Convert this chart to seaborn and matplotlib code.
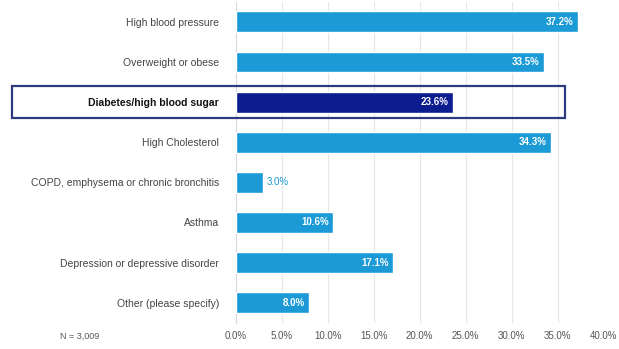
import seaborn as sns
import matplotlib.pyplot as plt
import matplotlib.transforms as mtransforms
from matplotlib.patches import Rectangle
import pandas as pd

conditions = ["High blood pressure", "Overweight or obese", "Diabetes/high blood sugar",
              "High Cholesterol", "COPD, emphysema or chronic bronchitis", "Asthma",
              "Depression or depressive disorder", "Other (please specify)"]
percents = [37.2, 33.5, 23.6, 34.3, 3.0, 10.6, 17.1, 8.0]
highlight = "Diabetes/high blood sugar"
xticks = [0, 5, 10, 15, 20, 25, 30, 35, 40]
note = "N = 3,009"

blue = "#1b9ad6"
navy = "#0b1d8f"

df = pd.DataFrame({"condition": conditions, "pct": percents})
df["grp"] = ["hi" if c == highlight else "lo" for c in conditions]

sns.set_style("white")
plt.rcParams["font.family"] = ["Liberation Sans", "DejaVu Sans"]

fig, ax = plt.subplots(figsize=(6.19, 3.49), dpi=100)
fig.subplots_adjust(left=0.381, right=0.975, top=0.995, bottom=0.075)

sns.barplot(data=df, x="pct", y="condition", hue="grp", orient="h",
            palette={"hi": navy, "lo": blue}, width=0.52, dodge=False,
            saturation=1, legend=False, ax=ax, zorder=3)

ax.set_xlim(0, 40)
ax.set_ylim(len(conditions) - 0.5, -0.5)
ax.set_xticks(xticks)
ax.set_xticklabels([f"{t:.1f}%" for t in xticks], fontsize=7, color="#555555")
ax.grid(axis="x", color="#e6e6e6", linewidth=0.8, zorder=0)
ax.set_xlabel("")
ax.set_ylabel("")
ax.tick_params(axis="y", length=0, pad=12, labelsize=7.5, labelcolor="#444444")
ax.tick_params(axis="x", length=0, pad=6)
for s in ["top", "right", "bottom"]:
    ax.spines[s].set_visible(False)
ax.spines["left"].set_color("#d9d9d9")

for lbl in ax.get_yticklabels():
    if lbl.get_text() == highlight:
        lbl.set_fontweight("bold")
        lbl.set_color("#111111")

for i, v in enumerate(percents):
    if v < 5:
        ax.text(v + 0.4, i, f"{v:.1f}%", va="center", ha="left",
                fontsize=7, color=blue, zorder=4)
    else:
        ax.text(v - 0.5, i, f"{v:.1f}%", va="center", ha="right",
                fontsize=7, color="white", fontweight="bold", zorder=4)

# highlight box around diabetes row
idx = conditions.index(highlight)
trans = mtransforms.blended_transform_factory(fig.transFigure, ax.transData)
box = Rectangle((12 / 619, idx + 0.4), (565 - 12) / 619, -0.8, transform=trans,
                fill=False, edgecolor="#2e3a80", linewidth=1.6, clip_on=False, zorder=5)
fig.add_artist(box)

fig.text(60 / 619, 0.035, note, fontsize=6.5, color="#555555", ha="left", va="center")

fig.savefig("out.png", dpi=100)
